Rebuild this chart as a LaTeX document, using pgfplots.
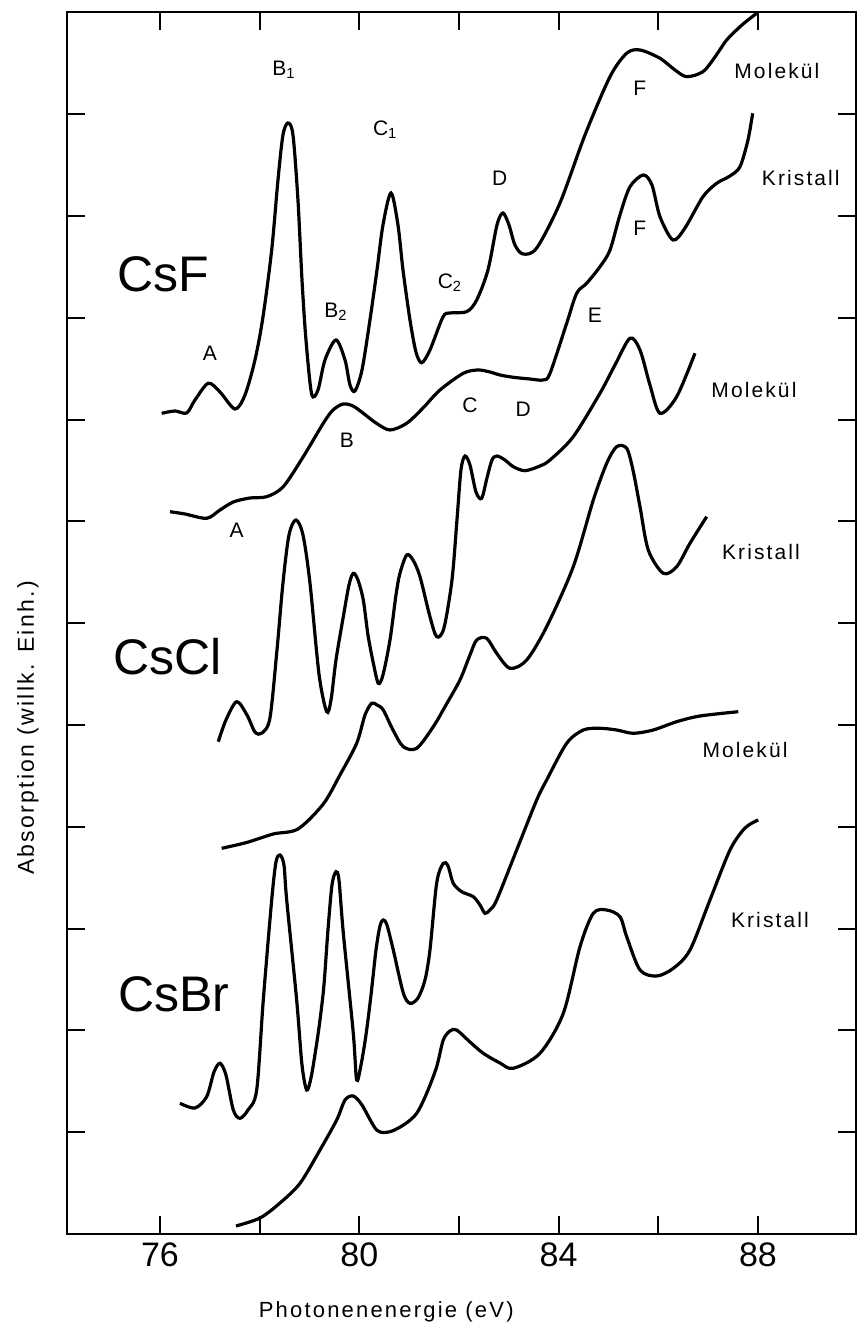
\documentclass[border=0pt]{standalone}
\usepackage{fontspec}
\setmainfont{Liberation Sans}
\newfontfamily\lsfont[LetterSpace=10]{Liberation Sans}
\usepackage{pgfplots}
\pgfplotsset{compat=1.18}
\begin{document}
\begin{tikzpicture}[x=1pt,y=1pt]
\useasboundingbox (-33.5,-49) rectangle (396,617);
\begin{axis}[
  at={(0,0)}, anchor=south west,
  scale only axis, width=394.5pt, height=611pt,
  xmin=74.134, xmax=89.968, ymin=0, ymax=1222,
  axis line style={line width=1.3pt},
  xtick={76,78,80,82,84,86,88},
  xticklabels={76,,80,,84,,88},
  ytick={101.8,203.6,305.4,407.2,509,610.8,712.6,814.4,916.2,1018,1119.8},
  yticklabels={},
  tick align=inside,
  xtick pos=both, ytick pos=both,
  major tick length=9pt,
  tick style={line width=1pt, black},
  /pgf/number format/assume math mode=true,
  xticklabel style={font=\fontsize{17}{17}\selectfont, yshift=-1pt},
  clip mode=individual,
  curve/.style={line width=1.6pt, black, solid, smooth, tension=0.5, mark=none},
]
% CsF Molekuel
\addplot[curve] coordinates {(76.034,820.7)(76.301,823)(76.536,821)(76.702,834)(76.969,850.7)(77.204,842)(77.505,825)(77.706,839)(77.906,874)(78.067,917)(78.242,984)(78.368,1054)(78.468,1099)(78.569,1111)(78.669,1099)(78.769,1034)(78.850,954)(78.930,894)(79.044,840)(79.171,844)(79.311,874)(79.532,894)(79.713,874)(79.813,849)(79.913,843)(80.054,864)(80.214,914)(80.355,964)(80.475,1009)(80.636,1041)(80.776,1009)(80.877,964)(81.017,914)(81.137,882)(81.252,871.3)(81.418,884)(81.679,917)(81.820,921)(82.155,922.3)(82.356,934)(82.582,964)(82.763,1009)(82.883,1021)(83.004,1009)(83.124,989)(83.285,980)(83.560,986)(84.027,1031)(84.529,1099)(85.031,1157.3)(85.366,1180.7)(85.633,1184)(86.034,1175.7)(86.335,1164)(86.570,1157.3)(86.897,1162.3)(87.138,1177)(87.373,1194)(87.680,1209)(87.975,1220.7)};
% CsF Kristall
\addplot[curve] coordinates {(76.201,722.3)(76.502,720)(76.937,715.7)(77.204,724)(77.471,732)(77.806,736)(78.141,737.3)(78.474,747.3)(78.876,777.3)(79.277,810.7)(79.472,824)(79.678,830)(79.873,828)(80.080,820.7)(80.335,811)(80.616,804)(80.951,810.7)(81.278,826)(81.619,844)(82.087,860.7)(82.382,864)(82.622,862)(82.823,859)(83.090,856.7)(83.425,855)(83.692,854)(83.827,860.7)(84.162,910.7)(84.362,940.7)(84.563,950.7)(84.830,967.3)(85.031,984)(85.231,1019)(85.432,1047.3)(85.699,1059)(85.873,1049)(86.034,1017.3)(86.295,994)(86.536,1006)(86.897,1037.3)(87.172,1050.7)(87.439,1058)(87.640,1067.3)(87.800,1094)(87.894,1120.7)};
% CsCl Molekuel
\addplot[curve] coordinates {(77.170,492.3)(77.324,514)(77.539,532.3)(77.746,519)(77.906,502)(78.047,501)(78.207,516)(78.348,584)(78.468,651)(78.589,699)(78.729,714)(78.870,699)(79.010,651)(79.191,560)(79.345,522.3)(79.432,534)(79.532,574)(79.679,617.3)(79.793,649)(79.879,660.7)(79.973,654)(80.080,634)(80.174,599)(80.281,571)(80.381,550.7)(80.475,559)(80.616,594)(80.736,639)(80.816,660.7)(80.951,679)(81.077,674)(81.218,657.3)(81.418,617.3)(81.553,597.3)(81.699,606)(81.860,654)(81.960,714)(82.040,764)(82.121,778)(82.221,769)(82.342,742)(82.456,735.7)(82.562,756)(82.663,774)(82.763,778)(82.923,774)(83.090,767.3)(83.325,763.3)(83.626,768)(83.827,774)(84.294,797.3)(84.830,840.7)(85.131,869)(85.432,895.7)(85.633,884)(85.833,849)(86.034,820.7)(86.369,837.3)(86.736,880.7)};
% CsCl Kristall
\addplot[curve] coordinates {(77.238,385.7)(77.740,391.5)(78.274,400)(78.769,405)(79.277,430)(79.612,459)(79.947,490.7)(80.114,519)(80.248,530.7)(80.355,529)(80.481,524)(80.676,504)(80.883,487.3)(81.152,485.7)(81.485,507.3)(81.739,529)(82.020,554)(82.221,579)(82.356,594)(82.556,595.7)(82.757,580.7)(83.024,565.7)(83.359,574)(83.760,607.3)(84.294,667.3)(84.696,734)(84.965,770.7)(85.165,787.3)(85.366,785.7)(85.492,764)(85.633,727.3)(85.799,684)(86.100,660.7)(86.369,667.3)(86.636,690.7)(86.971,717.3)};
% CsBr Molekuel
\addplot[curve] coordinates {(76.401,130.7)(76.702,126)(76.937,137.3)(77.084,162)(77.204,170.7)(77.324,159)(77.471,124)(77.605,115.7)(77.766,124)(77.941,144)(78.073,234)(78.242,334)(78.328,372)(78.408,379)(78.488,369)(78.543,334)(78.743,234)(78.850,169)(78.944,144)(79.030,156)(79.131,186)(79.211,214)(79.291,249)(79.371,304)(79.452,349)(79.532,362.3)(79.592,354)(79.679,301)(79.879,201)(79.947,154)(80.034,169)(80.134,199)(80.235,239)(80.335,284)(80.415,308)(80.481,314)(80.555,309)(80.682,284)(80.883,241)(81.017,230.7)(81.178,236)(81.318,254)(81.418,284)(81.553,351)(81.685,370.7)(81.780,368)(81.886,350.7)(82.054,342.3)(82.287,337.3)(82.422,329)(82.522,320.7)(82.622,324)(82.757,334)(83.158,384)(83.560,434)(83.760,454)(84.162,490.7)(84.495,504)(84.830,505.7)(85.165,504)(85.498,500.7)(85.899,504)(86.369,512.3)(86.837,518)(87.605,522.3)};
% CsBr Kristall
\addplot[curve] coordinates {(77.525,8)(78.007,16)(78.408,31)(78.810,50.7)(79.211,84)(79.546,114)(79.713,134)(79.879,138)(80.054,129)(80.349,104)(80.616,102.3)(80.917,110)(81.152,120.7)(81.352,140.7)(81.553,167.3)(81.685,194)(81.820,203)(81.954,204)(82.221,192)(82.488,180.7)(82.823,171)(83.090,165.7)(83.626,180.7)(84.094,220.7)(84.429,287.3)(84.696,320.7)(84.965,324)(85.231,317.3)(85.366,297.3)(85.633,264)(85.968,258)(86.302,265.7)(86.636,284)(87.037,334)(87.439,384)(87.740,406)(88.006,414)};
% compound names
\node[font=\fontsize{25}{25}\selectfont] at (axis cs:76.06,960) {CsF};
\node[font=\fontsize{25}{25}\selectfont] at (axis cs:76.16,577) {CsCl};
\node[font=\fontsize{25}{25}\selectfont] at (axis cs:76.28,240) {CsBr};
% curve names
\node[font=\lsfont\fontsize{10.5}{10.5}\selectfont] at (axis cs:88.38,1163) {Molekül};
\node[font=\lsfont\fontsize{10.5}{10.5}\selectfont] at (axis cs:88.86,1056) {Kristall};
\node[font=\lsfont\fontsize{10.5}{10.5}\selectfont] at (axis cs:87.92,844) {Molekül};
\node[font=\lsfont\fontsize{10.5}{10.5}\selectfont] at (axis cs:88.06,682) {Kristall};
\node[font=\lsfont\fontsize{10.5}{10.5}\selectfont] at (axis cs:87.74,484) {Molekül};
\node[font=\lsfont\fontsize{10.5}{10.5}\selectfont] at (axis cs:88.24,314) {Kristall};
% peak labels
\tikzset{pk/.style={font=\fontsize{10.5}{10.5}\selectfont, inner sep=0pt}}
\node[pk] at (axis cs:78.49,1164) {B\textsubscript{1}};
\node[pk] at (axis cs:80.52,1104) {C\textsubscript{1}};
\node[pk] at (axis cs:82.82,1056) {D};
\node[pk] at (axis cs:81.82,951) {C\textsubscript{2}};
\node[pk] at (axis cs:79.53,922) {B\textsubscript{2}};
\node[pk] at (axis cs:77.00,881) {A};
\node[pk] at (axis cs:85.63,1146) {F};
\node[pk] at (axis cs:85.63,1006) {F};
\node[pk] at (axis cs:84.73,919) {E};
\node[pk] at (axis cs:82.22,829) {C};
\node[pk] at (axis cs:83.29,825) {D};
\node[pk] at (axis cs:79.75,794) {B};
\node[pk] at (axis cs:77.54,704) {A};
% axis labels
\node[font=\lsfont\fontsize{11}{11}\selectfont] at ([yshift=-39pt]axis cs:80.54,0) {Photonenenergie (eV)};
\node[font=\lsfont\fontsize{11.5}{11.5}\selectfont, rotate=90] at ([xshift=-19.5pt]axis cs:74.134,506) {Absorption (willk. Einh.)};
\end{axis}
\end{tikzpicture}
\end{document}
